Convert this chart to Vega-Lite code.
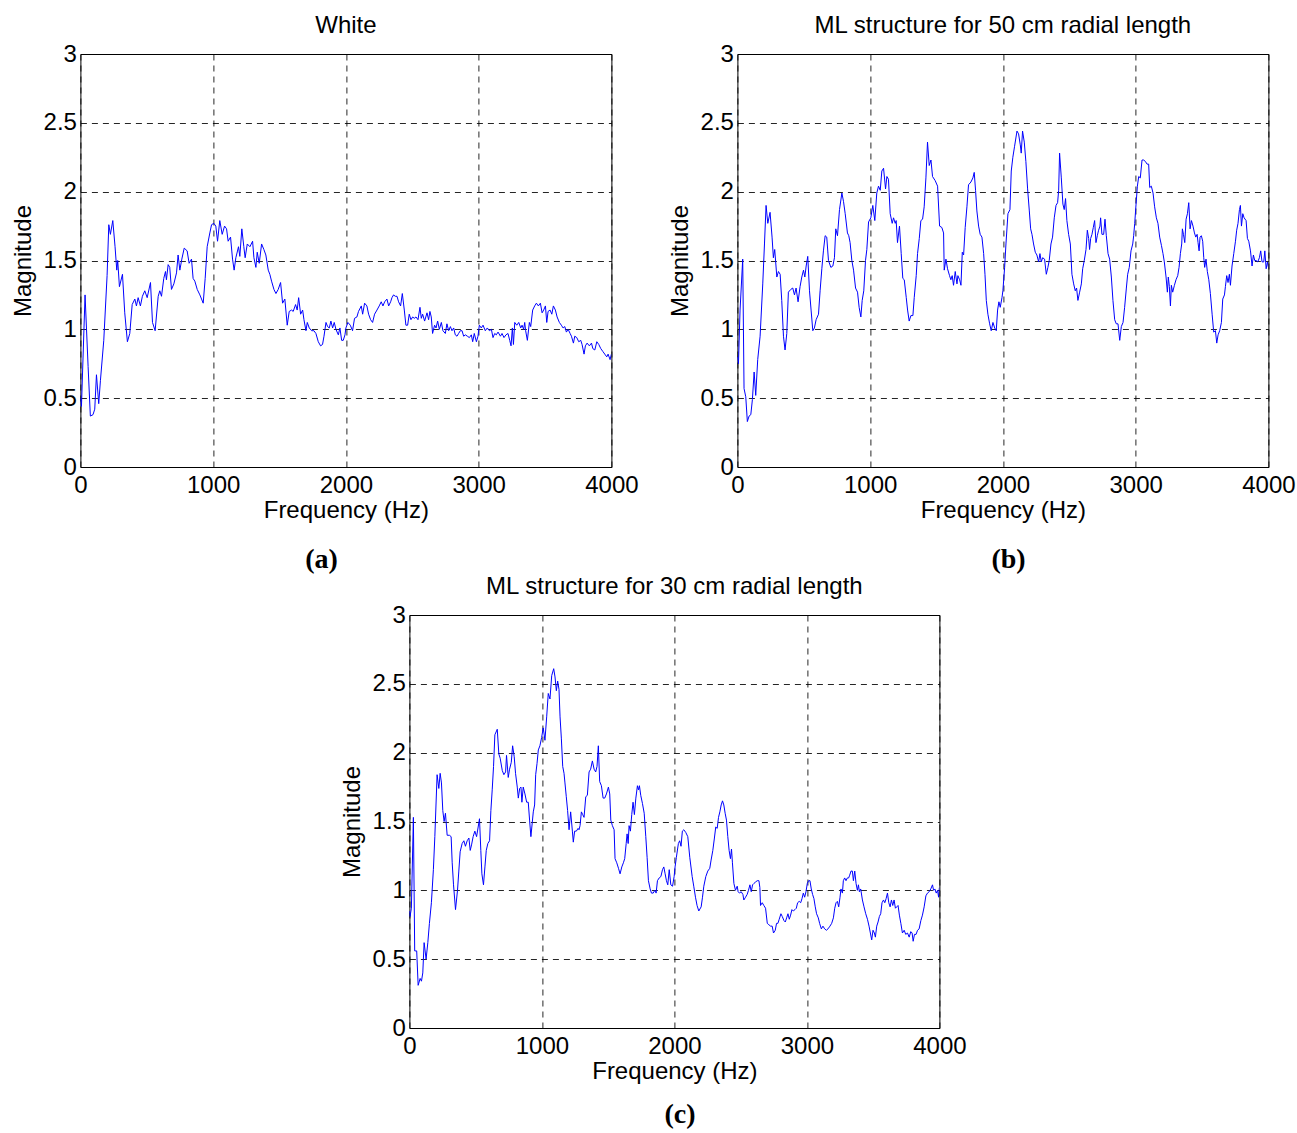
{
  "$schema": "https://vega.github.io/schema/vega-lite/v6.json",
  "background": "white",
  "padding": {"left": 10, "top": 13, "right": 2, "bottom": 2},
  "config": {
    "font": "Liberation Sans",
    "view": {"stroke": "black", "strokeWidth": 1},
    "axis": {
      "labelFontSize": 24, "titleFontSize": 24, "labelColor": "black", "titleColor": "black",
      "titleFontWeight": "normal", "grid": true, "gridColor": "black", "gridDash": [6, 5], "gridWidth": 1, "gridOpacity": 0.85,
      "domain": false, "ticks": false, "labelFlush": false, "labelOverlap": false, "labelFont": "Liberation Sans", "titleFont": "Liberation Sans"
    },
    "axisX": {"labelPadding": 6, "titlePadding": 1},
    "axisY": {"labelPadding": 4, "titlePadding": 8},
    "title": {"fontSize": 24, "fontWeight": "normal", "font": "Liberation Sans", "color": "black"},
    "line": {"color": "#0000ff", "strokeWidth": 1}
  },
  "datasets": {
    "a": [
      {"f":0,"v":0.5},{"f":8,"v":0.44},{"f":35,"v":1.25},{"f":58,"v":0.73},{"f":75,"v":0.37},{"f":95,"v":0.38},{"f":108,"v":0.42},{"f":121,"v":0.67},{"f":138,"v":0.46},{"f":151,"v":0.63},{"f":176,"v":0.92},{"f":201,"v":1.39},{"f":214,"v":1.76},{"f":226,"v":1.69},{"f":244,"v":1.79},{"f":261,"v":1.6},{"f":274,"v":1.43},{"f":281,"v":1.5},{"f":294,"v":1.31},{"f":317,"v":1.4},{"f":334,"v":1.12},{"f":354,"v":0.91},{"f":372,"v":0.97},{"f":390,"v":1.18},{"f":410,"v":1.22},{"f":422,"v":1.17},{"f":435,"v":1.23},{"f":452,"v":1.17},{"f":467,"v":1.24},{"f":485,"v":1.28},{"f":503,"v":1.23},{"f":528,"v":1.34},{"f":543,"v":1.05},{"f":563,"v":0.99},{"f":586,"v":1.24},{"f":598,"v":1.28},{"f":611,"v":1.24},{"f":628,"v":1.37},{"f":641,"v":1.42},{"f":648,"v":1.36},{"f":661,"v":1.47},{"f":673,"v":1.45},{"f":686,"v":1.29},{"f":704,"v":1.33},{"f":724,"v":1.41},{"f":736,"v":1.54},{"f":749,"v":1.43},{"f":764,"v":1.51},{"f":782,"v":1.59},{"f":804,"v":1.57},{"f":819,"v":1.48},{"f":837,"v":1.51},{"f":849,"v":1.37},{"f":862,"v":1.35},{"f":880,"v":1.29},{"f":900,"v":1.25},{"f":925,"v":1.19},{"f":940,"v":1.37},{"f":955,"v":1.6},{"f":975,"v":1.7},{"f":988,"v":1.76},{"f":1005,"v":1.77},{"f":1020,"v":1.75},{"f":1033,"v":1.64},{"f":1050,"v":1.79},{"f":1068,"v":1.69},{"f":1086,"v":1.75},{"f":1101,"v":1.73},{"f":1113,"v":1.64},{"f":1131,"v":1.67},{"f":1146,"v":1.51},{"f":1158,"v":1.43},{"f":1171,"v":1.52},{"f":1191,"v":1.6},{"f":1201,"v":1.53},{"f":1216,"v":1.73},{"f":1231,"v":1.6},{"f":1241,"v":1.52},{"f":1257,"v":1.62},{"f":1277,"v":1.6},{"f":1297,"v":1.64},{"f":1307,"v":1.52},{"f":1322,"v":1.45},{"f":1332,"v":1.56},{"f":1347,"v":1.48},{"f":1365,"v":1.62},{"f":1382,"v":1.58},{"f":1397,"v":1.54},{"f":1415,"v":1.43},{"f":1427,"v":1.4},{"f":1440,"v":1.35},{"f":1458,"v":1.29},{"f":1473,"v":1.26},{"f":1490,"v":1.29},{"f":1508,"v":1.34},{"f":1523,"v":1.19},{"f":1540,"v":1.22},{"f":1558,"v":1.03},{"f":1573,"v":1.13},{"f":1591,"v":1.14},{"f":1603,"v":1.13},{"f":1621,"v":1.18},{"f":1633,"v":1.14},{"f":1644,"v":1.23},{"f":1659,"v":1.11},{"f":1674,"v":1.14},{"f":1684,"v":1.07},{"f":1699,"v":0.99},{"f":1709,"v":1.05},{"f":1724,"v":1.01},{"f":1742,"v":0.99},{"f":1759,"v":0.99},{"f":1774,"v":0.97},{"f":1792,"v":0.91},{"f":1809,"v":0.88},{"f":1824,"v":0.89},{"f":1835,"v":0.95},{"f":1850,"v":1.05},{"f":1862,"v":1.02},{"f":1875,"v":1.01},{"f":1887,"v":1.06},{"f":1900,"v":1.01},{"f":1912,"v":1.05},{"f":1925,"v":1.0},{"f":1943,"v":0.96},{"f":1955,"v":1.01},{"f":1968,"v":0.92},{"f":1980,"v":0.92},{"f":1993,"v":0.96},
      {"f":2000,"v":1.01},{"f":2015,"v":1.05},{"f":2033,"v":1.03},{"f":2050,"v":0.99},{"f":2065,"v":1.08},{"f":2083,"v":1.09},{"f":2095,"v":1.13},{"f":2116,"v":1.17},{"f":2126,"v":1.11},{"f":2141,"v":1.19},{"f":2158,"v":1.17},{"f":2171,"v":1.11},{"f":2186,"v":1.07},{"f":2201,"v":1.05},{"f":2216,"v":1.11},{"f":2234,"v":1.14},{"f":2251,"v":1.17},{"f":2266,"v":1.2},{"f":2279,"v":1.17},{"f":2292,"v":1.2},{"f":2309,"v":1.22},{"f":2322,"v":1.17},{"f":2337,"v":1.2},{"f":2347,"v":1.23},{"f":2359,"v":1.25},{"f":2372,"v":1.24},{"f":2385,"v":1.24},{"f":2397,"v":1.2},{"f":2412,"v":1.17},{"f":2425,"v":1.26},{"f":2440,"v":1.14},{"f":2452,"v":1.03},{"f":2465,"v":1.03},{"f":2477,"v":1.11},{"f":2490,"v":1.07},{"f":2503,"v":1.09},{"f":2515,"v":1.08},{"f":2528,"v":1.09},{"f":2543,"v":1.07},{"f":2558,"v":1.16},{"f":2568,"v":1.08},{"f":2578,"v":1.11},{"f":2593,"v":1.06},{"f":2611,"v":1.12},{"f":2623,"v":1.07},{"f":2633,"v":1.13},{"f":2643,"v":1.09},{"f":2653,"v":0.97},{"f":2668,"v":1.03},{"f":2679,"v":1.01},{"f":2691,"v":1.06},{"f":2704,"v":1.0},{"f":2719,"v":1.05},{"f":2731,"v":0.99},{"f":2749,"v":0.97},{"f":2761,"v":1.04},{"f":2774,"v":0.99},{"f":2787,"v":1.02},{"f":2799,"v":0.99},{"f":2812,"v":1.01},{"f":2824,"v":0.96},{"f":2837,"v":0.95},{"f":2849,"v":0.97},{"f":2862,"v":0.99},{"f":2875,"v":0.99},{"f":2887,"v":0.95},{"f":2900,"v":0.96},{"f":2915,"v":0.95},{"f":2930,"v":0.94},{"f":2945,"v":0.96},{"f":2955,"v":0.91},{"f":2967,"v":0.97},{"f":2983,"v":0.91},{"f":2995,"v":0.95},{"f":3005,"v":1.03},{"f":3020,"v":1.01},{"f":3033,"v":1.03},{"f":3050,"v":0.99},{"f":3065,"v":1.01},{"f":3081,"v":0.99},{"f":3096,"v":1.0},{"f":3108,"v":0.94},{"f":3121,"v":0.97},{"f":3133,"v":0.96},{"f":3146,"v":0.98},{"f":3164,"v":0.95},{"f":3176,"v":0.97},{"f":3191,"v":0.94},{"f":3206,"v":0.96},{"f":3221,"v":0.97},{"f":3234,"v":0.92},{"f":3244,"v":0.88},{"f":3254,"v":1.01},{"f":3262,"v":0.89},{"f":3272,"v":1.05},{"f":3287,"v":1.03},{"f":3302,"v":1.05},{"f":3317,"v":1.01},{"f":3327,"v":1.03},{"f":3339,"v":1.0},{"f":3347,"v":1.05},{"f":3354,"v":0.99},{"f":3367,"v":0.92},{"f":3382,"v":1.05},{"f":3392,"v":1.02},{"f":3407,"v":1.14},{"f":3422,"v":1.17},{"f":3435,"v":1.19},{"f":3450,"v":1.17},{"f":3465,"v":1.19},{"f":3478,"v":1.12},{"f":3490,"v":1.14},{"f":3503,"v":1.17},{"f":3513,"v":1.05},{"f":3523,"v":1.13},{"f":3538,"v":1.14},{"f":3551,"v":1.11},{"f":3563,"v":1.17},{"f":3578,"v":1.14},{"f":3591,"v":1.09},{"f":3608,"v":1.05},{"f":3623,"v":1.03},{"f":3636,"v":1.01},{"f":3649,"v":1.02},{"f":3661,"v":0.98},{"f":3674,"v":1.0},{"f":3689,"v":0.97},{"f":3699,"v":0.95},{"f":3714,"v":0.9},{"f":3724,"v":0.95},{"f":3739,"v":0.94},{"f":3754,"v":0.91},{"f":3769,"v":0.92},{"f":3779,"v":0.89},{"f":3794,"v":0.82},{"f":3804,"v":0.88},{"f":3817,"v":0.9},{"f":3834,"v":0.88},{"f":3850,"v":0.9},{"f":3860,"v":0.86},{"f":3875,"v":0.85},{"f":3890,"v":0.91},{"f":3905,"v":0.89},{"f":3920,"v":0.86},{"f":3935,"v":0.84},{"f":3950,"v":0.82},{"f":3965,"v":0.8},{"f":3975,"v":0.82},{"f":3990,"v":0.78},{"f":4000,"v":0.82}
    ],
    "b": [
      {"f":0,"v":0.8},{"f":8,"v":0.75},{"f":20,"v":1.14},{"f":40,"v":1.51},{"f":50,"v":0.57},{"f":63,"v":0.51},{"f":75,"v":0.33},{"f":88,"v":0.37},{"f":101,"v":0.38},{"f":113,"v":0.49},{"f":126,"v":0.69},{"f":138,"v":0.52},{"f":153,"v":0.78},{"f":171,"v":0.95},{"f":191,"v":1.33},{"f":204,"v":1.62},{"f":216,"v":1.9},{"f":229,"v":1.77},{"f":246,"v":1.85},{"f":261,"v":1.67},{"f":271,"v":1.52},{"f":281,"v":1.58},{"f":297,"v":1.38},{"f":309,"v":1.42},{"f":322,"v":1.4},{"f":334,"v":1.21},{"f":347,"v":0.95},{"f":359,"v":0.85},{"f":372,"v":0.97},{"f":384,"v":1.27},{"f":402,"v":1.29},{"f":417,"v":1.3},{"f":430,"v":1.25},{"f":442,"v":1.3},{"f":457,"v":1.2},{"f":472,"v":1.31},{"f":485,"v":1.38},{"f":498,"v":1.43},{"f":508,"v":1.38},{"f":518,"v":1.46},{"f":530,"v":1.53},{"f":543,"v":1.28},{"f":555,"v":1.14},{"f":568,"v":0.99},{"f":580,"v":1.01},{"f":593,"v":1.07},{"f":611,"v":1.11},{"f":623,"v":1.28},{"f":636,"v":1.44},{"f":648,"v":1.57},{"f":661,"v":1.68},{"f":673,"v":1.67},{"f":686,"v":1.5},{"f":704,"v":1.45},{"f":719,"v":1.46},{"f":731,"v":1.52},{"f":741,"v":1.73},{"f":754,"v":1.68},{"f":769,"v":1.87},{"f":787,"v":1.99},{"f":799,"v":1.93},{"f":812,"v":1.84},{"f":829,"v":1.7},{"f":839,"v":1.68},{"f":849,"v":1.63},{"f":862,"v":1.5},{"f":875,"v":1.43},{"f":890,"v":1.3},{"f":905,"v":1.27},{"f":917,"v":1.16},{"f":930,"v":1.09},{"f":940,"v":1.21},{"f":952,"v":1.28},{"f":965,"v":1.5},{"f":975,"v":1.58},{"f":988,"v":1.78},{"f":1005,"v":1.81},{"f":1020,"v":1.9},{"f":1035,"v":1.79},{"f":1050,"v":1.99},{"f":1063,"v":2.04},{"f":1076,"v":2.01},{"f":1088,"v":2.15},{"f":1101,"v":2.17},{"f":1116,"v":2.02},{"f":1126,"v":2.11},{"f":1138,"v":2.09},{"f":1151,"v":1.84},{"f":1166,"v":1.77},{"f":1176,"v":1.81},{"f":1189,"v":1.77},{"f":1196,"v":1.79},{"f":1206,"v":1.63},{"f":1221,"v":1.75},{"f":1234,"v":1.55},{"f":1246,"v":1.37},{"f":1257,"v":1.36},{"f":1272,"v":1.23},{"f":1282,"v":1.14},{"f":1294,"v":1.06},{"f":1307,"v":1.1},{"f":1322,"v":1.1},{"f":1332,"v":1.23},{"f":1347,"v":1.39},{"f":1357,"v":1.55},{"f":1370,"v":1.66},{"f":1382,"v":1.79},{"f":1395,"v":1.8},{"f":1407,"v":1.89},{"f":1420,"v":2.1},{"f":1432,"v":2.36},{"f":1445,"v":2.19},{"f":1458,"v":2.23},{"f":1470,"v":2.11},{"f":1490,"v":2.08},{"f":1508,"v":2.04},{"f":1523,"v":1.75},{"f":1540,"v":1.74},{"f":1553,"v":1.7},{"f":1558,"v":1.43},{"f":1571,"v":1.51},{"f":1583,"v":1.44},{"f":1598,"v":1.39},{"f":1608,"v":1.36},{"f":1618,"v":1.39},{"f":1628,"v":1.32},{"f":1641,"v":1.42},{"f":1654,"v":1.33},{"f":1661,"v":1.39},{"f":1674,"v":1.36},{"f":1684,"v":1.32},{"f":1694,"v":1.56},{"f":1704,"v":1.54},{"f":1716,"v":1.74},{"f":1729,"v":1.89},{"f":1741,"v":2.05},{"f":1759,"v":2.07},{"f":1774,"v":2.1},{"f":1784,"v":2.14},{"f":1794,"v":2.01},{"f":1804,"v":1.86},{"f":1817,"v":1.75},{"f":1829,"v":1.69},{"f":1842,"v":1.67},{"f":1855,"v":1.55},{"f":1865,"v":1.4},{"f":1875,"v":1.21},{"f":1887,"v":1.11},{"f":1900,"v":1.04},{"f":1912,"v":0.99},{"f":1925,"v":1.05},{"f":1938,"v":1.01},{"f":1950,"v":0.99},{"f":1960,"v":1.14},{"f":1970,"v":1.2},{"f":1980,"v":1.16},{"f":1993,"v":1.23},
      {"f":2000,"v":1.28},{"f":2013,"v":1.45},{"f":2023,"v":1.62},{"f":2038,"v":1.84},{"f":2053,"v":1.87},{"f":2063,"v":2.15},{"f":2075,"v":2.25},{"f":2088,"v":2.33},{"f":2106,"v":2.44},{"f":2118,"v":2.42},{"f":2131,"v":2.34},{"f":2138,"v":2.28},{"f":2148,"v":2.44},{"f":2161,"v":2.36},{"f":2173,"v":2.22},{"f":2186,"v":2.02},{"f":2199,"v":1.86},{"f":2209,"v":1.73},{"f":2219,"v":1.69},{"f":2231,"v":1.62},{"f":2244,"v":1.56},{"f":2256,"v":1.54},{"f":2269,"v":1.49},{"f":2279,"v":1.55},{"f":2289,"v":1.49},{"f":2299,"v":1.52},{"f":2314,"v":1.51},{"f":2327,"v":1.4},{"f":2339,"v":1.45},{"f":2349,"v":1.5},{"f":2362,"v":1.62},{"f":2374,"v":1.67},{"f":2387,"v":1.81},{"f":2400,"v":1.9},{"f":2412,"v":1.92},{"f":2420,"v":2.01},{"f":2427,"v":2.28},{"f":2440,"v":2.1},{"f":2452,"v":1.91},{"f":2462,"v":1.87},{"f":2472,"v":1.95},{"f":2482,"v":1.79},{"f":2495,"v":1.69},{"f":2508,"v":1.62},{"f":2520,"v":1.4},{"f":2533,"v":1.33},{"f":2545,"v":1.28},{"f":2555,"v":1.3},{"f":2565,"v":1.21},{"f":2578,"v":1.27},{"f":2591,"v":1.33},{"f":2601,"v":1.44},{"f":2613,"v":1.5},{"f":2626,"v":1.58},{"f":2636,"v":1.72},{"f":2646,"v":1.66},{"f":2653,"v":1.58},{"f":2661,"v":1.66},{"f":2671,"v":1.69},{"f":2681,"v":1.74},{"f":2691,"v":1.79},{"f":2701,"v":1.63},{"f":2711,"v":1.68},{"f":2721,"v":1.72},{"f":2731,"v":1.75},{"f":2736,"v":1.81},{"f":2746,"v":1.69},{"f":2759,"v":1.69},{"f":2769,"v":1.8},{"f":2779,"v":1.68},{"f":2792,"v":1.55},{"f":2804,"v":1.51},{"f":2817,"v":1.38},{"f":2829,"v":1.21},{"f":2842,"v":1.07},{"f":2854,"v":1.04},{"f":2867,"v":1.04},{"f":2880,"v":0.92},{"f":2892,"v":1.02},{"f":2905,"v":1.05},{"f":2917,"v":1.16},{"f":2930,"v":1.3},{"f":2940,"v":1.4},{"f":2952,"v":1.45},{"f":2965,"v":1.57},{"f":2978,"v":1.62},{"f":2985,"v":1.68},{"f":2993,"v":1.77},{"f":3003,"v":1.91},{"f":3013,"v":2.04},{"f":3023,"v":2.11},{"f":3035,"v":2.1},{"f":3048,"v":2.23},{"f":3060,"v":2.23},{"f":3073,"v":2.22},{"f":3086,"v":2.2},{"f":3098,"v":2.2},{"f":3106,"v":2.03},{"f":3118,"v":2.04},{"f":3131,"v":1.99},{"f":3143,"v":1.89},{"f":3156,"v":1.81},{"f":3168,"v":1.77},{"f":3181,"v":1.67},{"f":3194,"v":1.61},{"f":3206,"v":1.55},{"f":3216,"v":1.49},{"f":3229,"v":1.38},{"f":3239,"v":1.27},{"f":3246,"v":1.38},{"f":3254,"v":1.31},{"f":3262,"v":1.17},{"f":3269,"v":1.32},{"f":3279,"v":1.27},{"f":3292,"v":1.32},{"f":3304,"v":1.36},{"f":3317,"v":1.39},{"f":3327,"v":1.45},{"f":3337,"v":1.55},{"f":3347,"v":1.62},{"f":3352,"v":1.73},{"f":3360,"v":1.69},{"f":3370,"v":1.63},{"f":3380,"v":1.8},{"f":3390,"v":1.84},{"f":3400,"v":1.92},{"f":3410,"v":1.73},{"f":3420,"v":1.79},{"f":3432,"v":1.75},{"f":3443,"v":1.7},{"f":3453,"v":1.67},{"f":3463,"v":1.69},{"f":3470,"v":1.63},{"f":3478,"v":1.57},{"f":3485,"v":1.67},{"f":3495,"v":1.68},{"f":3505,"v":1.64},{"f":3513,"v":1.52},{"f":3520,"v":1.45},{"f":3530,"v":1.51},{"f":3540,"v":1.42},{"f":3551,"v":1.36},{"f":3563,"v":1.26},{"f":3576,"v":1.11},{"f":3588,"v":0.98},{"f":3601,"v":0.99},{"f":3611,"v":0.9},{"f":3621,"v":0.96},{"f":3633,"v":0.99},{"f":3646,"v":1.05},{"f":3656,"v":1.22},{"f":3669,"v":1.25},{"f":3676,"v":1.31},{"f":3686,"v":1.39},{"f":3696,"v":1.34},{"f":3706,"v":1.4},{"f":3714,"v":1.32},{"f":3726,"v":1.46},{"f":3739,"v":1.55},{"f":3752,"v":1.64},{"f":3761,"v":1.72},{"f":3771,"v":1.77},{"f":3782,"v":1.87},{"f":3789,"v":1.9},{"f":3797,"v":1.75},{"f":3807,"v":1.84},{"f":3817,"v":1.81},{"f":3832,"v":1.79},{"f":3842,"v":1.66},{"f":3852,"v":1.64},{"f":3865,"v":1.57},{"f":3877,"v":1.46},{"f":3887,"v":1.54},{"f":3897,"v":1.5},{"f":3907,"v":1.5},{"f":3920,"v":1.49},{"f":3932,"v":1.52},{"f":3942,"v":1.57},{"f":3952,"v":1.49},{"f":3965,"v":1.49},{"f":3973,"v":1.57},{"f":3983,"v":1.44},{"f":3993,"v":1.49},{"f":4000,"v":1.45}
    ],
    "c": [
      {"f":0,"v":0.85},{"f":5,"v":0.81},{"f":15,"v":0.87},{"f":30,"v":1.53},{"f":40,"v":0.56},{"f":55,"v":0.56},{"f":66,"v":0.31},{"f":81,"v":0.36},{"f":91,"v":0.34},{"f":101,"v":0.4},{"f":111,"v":0.62},{"f":126,"v":0.5},{"f":139,"v":0.62},{"f":151,"v":0.76},{"f":166,"v":0.91},{"f":181,"v":1.15},{"f":192,"v":1.39},{"f":209,"v":1.84},{"f":222,"v":1.74},{"f":232,"v":1.85},{"f":242,"v":1.78},{"f":252,"v":1.58},{"f":262,"v":1.5},{"f":272,"v":1.56},{"f":285,"v":1.4},{"f":302,"v":1.4},{"f":315,"v":1.39},{"f":323,"v":1.2},{"f":333,"v":1.04},{"f":348,"v":0.86},{"f":363,"v":1.0},{"f":373,"v":1.14},{"f":383,"v":1.28},{"f":398,"v":1.34},{"f":411,"v":1.36},{"f":423,"v":1.32},{"f":436,"v":1.36},{"f":449,"v":1.38},{"f":459,"v":1.29},{"f":469,"v":1.33},{"f":481,"v":1.39},{"f":494,"v":1.43},{"f":507,"v":1.39},{"f":519,"v":1.46},{"f":529,"v":1.52},{"f":539,"v":1.29},{"f":547,"v":1.12},{"f":559,"v":1.04},{"f":570,"v":1.17},{"f":580,"v":1.29},{"f":592,"v":1.34},{"f":605,"v":1.36},{"f":615,"v":1.58},{"f":625,"v":1.73},{"f":635,"v":1.9},{"f":645,"v":2.13},{"f":663,"v":2.17},{"f":675,"v":1.99},{"f":685,"v":1.96},{"f":701,"v":1.87},{"f":713,"v":1.84},{"f":726,"v":1.86},{"f":733,"v":1.98},{"f":746,"v":1.82},{"f":756,"v":1.88},{"f":769,"v":1.93},{"f":779,"v":2.05},{"f":791,"v":1.97},{"f":801,"v":1.85},{"f":814,"v":1.75},{"f":822,"v":1.67},{"f":832,"v":1.74},{"f":842,"v":1.75},{"f":849,"v":1.64},{"f":859,"v":1.75},{"f":872,"v":1.7},{"f":885,"v":1.64},{"f":897,"v":1.64},{"f":907,"v":1.51},{"f":917,"v":1.39},{"f":927,"v":1.49},{"f":935,"v":1.57},{"f":945,"v":1.62},{"f":953,"v":1.84},{"f":963,"v":1.92},{"f":973,"v":2.02},{"f":985,"v":2.05},{"f":998,"v":2.11},{"f":1010,"v":2.18},{"f":1023,"v":2.09},{"f":1036,"v":2.26},{"f":1048,"v":2.43},{"f":1061,"v":2.39},{"f":1074,"v":2.56},{"f":1089,"v":2.61},{"f":1099,"v":2.55},{"f":1109,"v":2.45},{"f":1119,"v":2.52},{"f":1129,"v":2.46},{"f":1137,"v":2.26},{"f":1147,"v":2.1},{"f":1157,"v":1.9},{"f":1167,"v":1.85},{"f":1174,"v":1.78},{"f":1184,"v":1.68},{"f":1194,"v":1.58},{"f":1205,"v":1.44},{"f":1217,"v":1.57},{"f":1230,"v":1.43},{"f":1237,"v":1.35},{"f":1247,"v":1.43},{"f":1260,"v":1.43},{"f":1273,"v":1.45},{"f":1280,"v":1.44},{"f":1288,"v":1.47},{"f":1298,"v":1.57},{"f":1308,"v":1.55},{"f":1318,"v":1.53},{"f":1331,"v":1.68},{"f":1343,"v":1.69},{"f":1356,"v":1.86},{"f":1368,"v":1.88},{"f":1381,"v":1.94},{"f":1394,"v":1.88},{"f":1406,"v":1.86},{"f":1416,"v":1.9},{"f":1426,"v":2.05},{"f":1436,"v":1.79},{"f":1449,"v":1.76},{"f":1462,"v":1.67},{"f":1474,"v":1.67},{"f":1487,"v":1.7},{"f":1502,"v":1.75},{"f":1512,"v":1.7},{"f":1520,"v":1.51},{"f":1532,"v":1.47},{"f":1545,"v":1.44},{"f":1552,"v":1.23},{"f":1565,"v":1.2},{"f":1578,"v":1.16},{"f":1590,"v":1.12},{"f":1603,"v":1.17},{"f":1615,"v":1.2},{"f":1625,"v":1.23},{"f":1636,"v":1.34},{"f":1643,"v":1.41},{"f":1651,"v":1.34},{"f":1658,"v":1.47},{"f":1668,"v":1.43},{"f":1678,"v":1.55},{"f":1688,"v":1.64},{"f":1698,"v":1.55},{"f":1709,"v":1.67},{"f":1721,"v":1.76},{"f":1729,"v":1.73},{"f":1736,"v":1.76},{"f":1746,"v":1.69},{"f":1759,"v":1.63},{"f":1772,"v":1.56},{"f":1784,"v":1.39},{"f":1794,"v":1.24},{"f":1804,"v":1.07},{"f":1817,"v":1.01},{"f":1827,"v":0.98},{"f":1840,"v":0.98},{"f":1852,"v":1.0},{"f":1862,"v":0.98},{"f":1872,"v":1.07},{"f":1885,"v":1.09},{"f":1898,"v":1.1},{"f":1910,"v":1.15},{"f":1920,"v":1.17},{"f":1930,"v":1.12},{"f":1940,"v":1.07},{"f":1950,"v":1.04},{"f":1961,"v":1.15},{"f":1973,"v":1.04},{"f":1986,"v":1.03},{"f":1998,"v":1.1},
      {"f":2005,"v":1.17},{"f":2015,"v":1.24},{"f":2030,"v":1.34},{"f":2040,"v":1.36},{"f":2050,"v":1.32},{"f":2060,"v":1.43},{"f":2071,"v":1.44},{"f":2086,"v":1.42},{"f":2101,"v":1.39},{"f":2116,"v":1.24},{"f":2134,"v":1.1},{"f":2146,"v":1.03},{"f":2159,"v":0.95},{"f":2171,"v":0.89},{"f":2184,"v":0.85},{"f":2202,"v":0.88},{"f":2212,"v":0.95},{"f":2222,"v":1.03},{"f":2237,"v":1.1},{"f":2252,"v":1.14},{"f":2267,"v":1.16},{"f":2277,"v":1.22},{"f":2290,"v":1.29},{"f":2302,"v":1.38},{"f":2312,"v":1.46},{"f":2323,"v":1.45},{"f":2333,"v":1.53},{"f":2343,"v":1.57},{"f":2353,"v":1.62},{"f":2363,"v":1.65},{"f":2373,"v":1.62},{"f":2383,"v":1.56},{"f":2393,"v":1.51},{"f":2403,"v":1.39},{"f":2413,"v":1.29},{"f":2423,"v":1.23},{"f":2431,"v":1.3},{"f":2438,"v":1.2},{"f":2449,"v":1.05},{"f":2461,"v":1.0},{"f":2474,"v":1.03},{"f":2481,"v":0.99},{"f":2491,"v":0.98},{"f":2504,"v":0.99},{"f":2517,"v":0.97},{"f":2524,"v":0.93},{"f":2537,"v":0.95},{"f":2549,"v":0.97},{"f":2559,"v":1.0},{"f":2570,"v":1.04},{"f":2580,"v":0.99},{"f":2590,"v":1.04},{"f":2600,"v":1.05},{"f":2612,"v":1.06},{"f":2625,"v":1.07},{"f":2638,"v":1.07},{"f":2645,"v":1.02},{"f":2650,"v":0.89},{"f":2663,"v":0.91},{"f":2675,"v":0.89},{"f":2688,"v":0.87},{"f":2701,"v":0.76},{"f":2713,"v":0.75},{"f":2726,"v":0.74},{"f":2738,"v":0.74},{"f":2748,"v":0.69},{"f":2761,"v":0.71},{"f":2771,"v":0.76},{"f":2781,"v":0.76},{"f":2791,"v":0.79},{"f":2804,"v":0.83},{"f":2814,"v":0.81},{"f":2827,"v":0.78},{"f":2837,"v":0.77},{"f":2847,"v":0.8},{"f":2857,"v":0.83},{"f":2867,"v":0.79},{"f":2877,"v":0.82},{"f":2887,"v":0.86},{"f":2897,"v":0.85},{"f":2910,"v":0.86},{"f":2920,"v":0.87},{"f":2930,"v":0.91},{"f":2942,"v":0.92},{"f":2953,"v":0.91},{"f":2963,"v":0.94},{"f":2973,"v":0.98},{"f":2983,"v":0.95},{"f":2993,"v":0.99},{"f":3003,"v":1.05},{"f":3013,"v":1.07},{"f":3023,"v":1.07},{"f":3033,"v":1.01},{"f":3043,"v":0.97},{"f":3053,"v":0.94},{"f":3063,"v":0.88},{"f":3073,"v":0.83},{"f":3086,"v":0.8},{"f":3096,"v":0.76},{"f":3109,"v":0.72},{"f":3121,"v":0.74},{"f":3134,"v":0.72},{"f":3147,"v":0.71},{"f":3159,"v":0.72},{"f":3174,"v":0.74},{"f":3187,"v":0.76},{"f":3200,"v":0.8},{"f":3210,"v":0.87},{"f":3220,"v":0.91},{"f":3230,"v":0.92},{"f":3240,"v":0.88},{"f":3250,"v":0.95},{"f":3257,"v":1.01},{"f":3268,"v":0.98},{"f":3275,"v":1.07},{"f":3285,"v":1.09},{"f":3295,"v":1.07},{"f":3305,"v":1.09},{"f":3315,"v":1.09},{"f":3323,"v":1.11},{"f":3333,"v":1.14},{"f":3343,"v":1.14},{"f":3351,"v":1.07},{"f":3361,"v":1.14},{"f":3371,"v":1.05},{"f":3381,"v":1.0},{"f":3389,"v":1.04},{"f":3396,"v":0.99},{"f":3406,"v":1.01},{"f":3419,"v":0.93},{"f":3431,"v":0.88},{"f":3444,"v":0.83},{"f":3457,"v":0.79},{"f":3469,"v":0.74},{"f":3479,"v":0.69},{"f":3489,"v":0.64},{"f":3499,"v":0.71},{"f":3509,"v":0.69},{"f":3517,"v":0.66},{"f":3527,"v":0.74},{"f":3537,"v":0.77},{"f":3547,"v":0.81},{"f":3557,"v":0.83},{"f":3567,"v":0.91},{"f":3578,"v":0.93},{"f":3588,"v":0.91},{"f":3598,"v":0.94},{"f":3608,"v":0.98},{"f":3618,"v":0.91},{"f":3628,"v":0.88},{"f":3638,"v":0.93},{"f":3648,"v":0.89},{"f":3658,"v":0.93},{"f":3668,"v":0.87},{"f":3678,"v":0.88},{"f":3688,"v":0.89},{"f":3698,"v":0.82},{"f":3709,"v":0.76},{"f":3721,"v":0.69},{"f":3734,"v":0.71},{"f":3746,"v":0.68},{"f":3759,"v":0.69},{"f":3772,"v":0.66},{"f":3784,"v":0.7},{"f":3794,"v":0.69},{"f":3802,"v":0.63},{"f":3812,"v":0.68},{"f":3824,"v":0.68},{"f":3835,"v":0.71},{"f":3847,"v":0.72},{"f":3860,"v":0.78},{"f":3872,"v":0.82},{"f":3885,"v":0.88},{"f":3898,"v":0.96},{"f":3910,"v":0.98},{"f":3923,"v":0.99},{"f":3935,"v":1.01},{"f":3948,"v":1.04},{"f":3956,"v":1.0},{"f":3966,"v":1.01},{"f":3976,"v":0.98},{"f":3986,"v":1.0},{"f":3994,"v":0.95},{"f":4000,"v":1.02}
    ]
  },
  "vconcat": [
    {
      "hconcat": [
        {
          "title": {"text": "(a)", "orient": "bottom", "anchor": "middle", "dx": -3, "font": "Liberation Serif", "fontWeight": "bold", "fontSize": 28, "offset": 23, "frame": "bounds"},
          "vconcat": [
            {
              "width": 531, "height": 413,
              "title": {"text": "White", "frame": "group", "anchor": "middle", "offset": 4},
              "data": {"name": "a"},
              "mark": {"type": "line", "clip": true},
              "encoding": {
                "x": {"field": "f", "type": "quantitative", "scale": {"domain": [0, 4000], "nice": false}, "axis": {"values": [0, 1000, 2000, 3000, 4000], "format": "d", "title": "Frequency (Hz)"}},
                "y": {"field": "v", "type": "quantitative", "scale": {"domain": [0, 3], "nice": false}, "axis": {"values": [0, 0.5, 1, 1.5, 2, 2.5, 3], "format": "~g", "title": "Magnitude"}}
              }
            }
          ]
        },
        {
          "title": {"text": "(b)", "orient": "bottom", "anchor": "middle", "dx": 27, "font": "Liberation Serif", "fontWeight": "bold", "fontSize": 28, "offset": 23, "frame": "bounds"},
          "vconcat": [
            {
              "width": 531, "height": 413,
              "title": {"text": "ML structure for 50 cm radial length", "frame": "group", "anchor": "middle", "offset": 4},
              "data": {"name": "b"},
              "mark": {"type": "line", "clip": true},
              "encoding": {
                "x": {"field": "f", "type": "quantitative", "scale": {"domain": [0, 4000], "nice": false}, "axis": {"values": [0, 1000, 2000, 3000, 4000], "format": "d", "title": "Frequency (Hz)"}},
                "y": {"field": "v", "type": "quantitative", "scale": {"domain": [0, 3], "nice": false}, "axis": {"values": [0, 0.5, 1, 1.5, 2, 2.5, 3], "format": "~g", "title": "Magnitude"}}
              }
            }
          ]
        }
      ],
      "spacing": 28
    },
    {
      "title": {"text": "(c)", "orient": "bottom", "anchor": "middle", "dx": 27, "font": "Liberation Serif", "fontWeight": "bold", "fontSize": 28, "offset": 17, "frame": "bounds"},
      "vconcat": [
        {
          "width": 530, "height": 413,
          "title": {"text": "ML structure for 30 cm radial length", "frame": "group", "anchor": "middle", "offset": 4},
          "data": {"name": "c"},
          "mark": {"type": "line", "clip": true},
          "encoding": {
            "x": {"field": "f", "type": "quantitative", "scale": {"domain": [0, 4000], "nice": false}, "axis": {"values": [0, 1000, 2000, 3000, 4000], "format": "d", "title": "Frequency (Hz)"}},
            "y": {"field": "v", "type": "quantitative", "scale": {"domain": [0, 3], "nice": false}, "axis": {"values": [0, 0.5, 1, 1.5, 2, 2.5, 3], "format": "~g", "title": "Magnitude"}}
          }
        }
      ]
    }
  ],
  "spacing": 0,
  "center": true
}
